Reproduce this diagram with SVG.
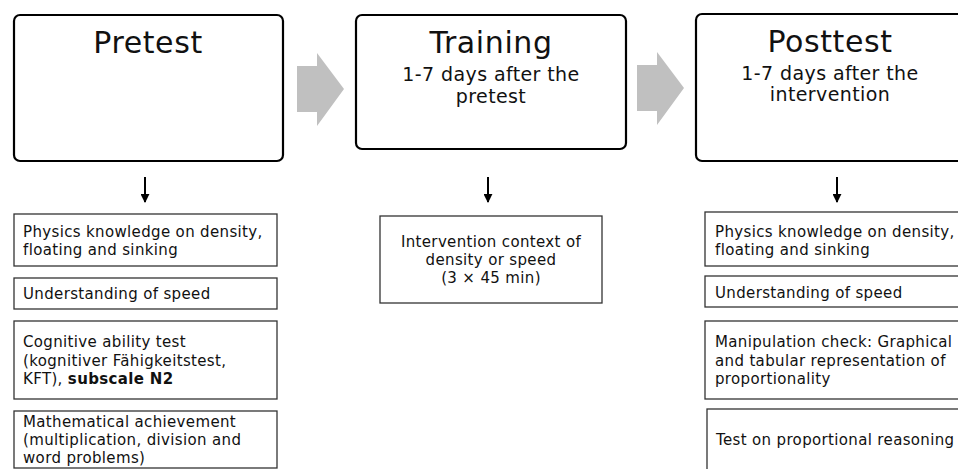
<svg xmlns="http://www.w3.org/2000/svg" width="958" height="469" viewBox="0 0 958 469">
<style>
.phase{fill:#fff;stroke:#000;stroke-width:2.2}
.box{fill:#fff;stroke:#333;stroke-width:1.3}
.t{font-family:"DejaVu Sans",Verdana,sans-serif;fill:#111}
.title{font-size:30px;letter-spacing:0.6px;text-anchor:middle}
.sub{font-size:19px;letter-spacing:0.4px;text-anchor:middle}
.b{font-size:15px;letter-spacing:0.35px}
.bc{font-size:15px;letter-spacing:0.35px;text-anchor:middle}
.big{fill:#c0c0c0}
.dn{stroke:#000;stroke-width:2;fill:none}
</style>
<defs>
<marker id="ah" viewBox="0 0 10 10" refX="9" refY="5" markerWidth="9" markerHeight="9" orient="auto" markerUnits="userSpaceOnUse">
<path d="M0,0 L10,5 L0,10 Z" fill="#000"/>
</marker>
</defs>
<rect width="958" height="469" fill="#fff"/>
<g id="connectors">
<polygon class="big" points="297,66 317,66 317,53 344,89 317,126 317,112 297,112"/>
<polygon class="big" points="637,65 657,65 657,52 684,88 657,125 657,111 637,111"/>
<path class="dn" d="M145,177 V202" marker-end="url(#ah)"/>
<path class="dn" d="M488,177 V202" marker-end="url(#ah)"/>
<path class="dn" d="M837,177 V202" marker-end="url(#ah)"/>
</g>
<g id="pretest">
<rect class="phase" x="14" y="15" width="269" height="146" rx="6"/>
<text class="t title" x="148" y="53">Pretest</text>
</g>
<g id="training">
<rect class="phase" x="356" y="15" width="270" height="134" rx="6"/>
<text class="t title" x="491" y="53">Training</text>
<text class="t sub" x="491" y="81">1-7 days after the</text>
<text class="t sub" x="491" y="103">pretest</text>
</g>
<g id="posttest">
<rect class="phase" x="696" y="14" width="280" height="147" rx="6"/>
<text class="t title" x="830" y="52">Posttest</text>
<text class="t sub" x="830" y="80">1-7 days after the</text>
<text class="t sub" x="830" y="101">intervention</text>
</g>
<g id="pre1">
<rect class="box" x="14" y="214" width="263" height="52"/>
<text class="t b" x="23" y="237">Physics knowledge on density,</text>
<text class="t b" x="23" y="255">floating and sinking</text>
</g>
<g id="pre2">
<rect class="box" x="14" y="278" width="263" height="31"/>
<text class="t b" x="23" y="299">Understanding of speed</text>
</g>
<g id="pre3">
<rect class="box" x="14" y="321" width="263" height="78"/>
<text class="t b" x="23" y="347">Cognitive ability test</text>
<text class="t b" x="23" y="366">(kognitiver Fähigkeitstest,</text>
<text class="t b" x="23" y="384">KFT), <tspan font-weight="bold">subscale N2</tspan></text>
</g>
<g id="pre4">
<rect class="box" x="14" y="411" width="263" height="57"/>
<text class="t b" x="23" y="427">Mathematical achievement</text>
<text class="t b" x="23" y="445">(multiplication, division and</text>
<text class="t b" x="23" y="463">word problems)</text>
</g>
<g id="train1">
<rect class="box" x="380" y="216" width="222" height="87"/>
<text class="t bc" x="491" y="247">Intervention context of</text>
<text class="t bc" x="491" y="265">density or speed</text>
<text class="t bc" x="491" y="283">(3 × 45 min)</text>
</g>
<g id="post1">
<rect class="box" x="705" y="212" width="270" height="54"/>
<text class="t b" x="715" y="237">Physics knowledge on density,</text>
<text class="t b" x="715" y="255">floating and sinking</text>
</g>
<g id="post2">
<rect class="box" x="705" y="276" width="270" height="31"/>
<text class="t b" x="715" y="298">Understanding of speed</text>
</g>
<g id="post3">
<rect class="box" x="705" y="321" width="270" height="78"/>
<text class="t b" x="715" y="347">Manipulation check: Graphical</text>
<text class="t b" x="715" y="366">and tabular representation of</text>
<text class="t b" x="715" y="384">proportionality</text>
</g>
<g id="post4">
<rect class="box" x="707" y="409" width="270" height="70"/>
<text class="t b" x="716" y="445">Test on proportional reasoning</text>
</g>
</svg>
